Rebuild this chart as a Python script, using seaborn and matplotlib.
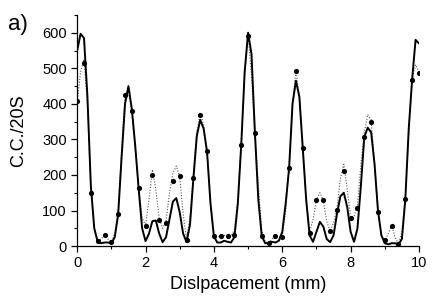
import numpy as np
import pandas as pd
import matplotlib
matplotlib.use("Agg")
import matplotlib.pyplot as plt
from matplotlib.ticker import MultipleLocator
import seaborn as sns

# measured points (every 0.2 mm)
meas_x = [0.0, 0.2, 0.4, 0.6, 0.8, 1.0, 1.2, 1.4, 1.6, 1.8, 2.0, 2.2, 2.4, 2.6, 2.8,
          3.0, 3.2, 3.4, 3.6, 3.8, 4.0, 4.2, 4.4, 4.6, 4.8, 5.0, 5.2, 5.4, 5.6, 5.8,
          6.0, 6.2, 6.4, 6.6, 6.8, 7.0, 7.2, 7.4, 7.6, 7.8, 8.0, 8.2, 8.4, 8.6, 8.8,
          9.0, 9.2, 9.4, 9.6, 9.8, 10.0]
meas_y = [408, 514, 149, 14, 31, 11, 90, 426, 380, 164, 56, 200, 74, 64, 183,
          198, 18, 191, 369, 267, 27, 28, 29, 31, 285, 590, 318, 28, 8, 28,
          25, 219, 493, 275, 36, 130, 130, 41, 102, 211, 79, 106, 307, 350, 95,
          16, 56, 6, 132, 467, 488]

curve_x = [round(0.1 * i, 1) for i in range(101)]
solid_y = [550, 597, 585, 420, 170, 50, 12, 8, 10, 10,
           8, 25, 90, 250, 400, 450, 385, 280, 160, 50,
           14, 35, 70, 72, 35, 11, 25, 75, 125, 135,
           95, 35, 11, 60, 190, 310, 355, 330, 265, 120,
           27, 10, 10, 15, 12, 10, 25, 120, 285, 490,
           600, 540, 318, 130, 28, 8, 8, 12, 10, 15,
           40, 120, 219, 400, 465, 420, 275, 130, 30, 12,
           40, 68, 55, 20, 11, 30, 90, 140, 150, 110,
           40, 12, 50, 170, 307, 333, 320, 230, 100, 30,
           8, 5, 8, 8, 5, 20, 132, 330, 470, 580,
           570]
dotted_y = [405, 490, 525, 400, 160, 50, 15, 20, 30, 20,
            12, 35, 100, 270, 420, 435, 375, 275, 165, 80,
            58, 130, 215, 160, 78, 50, 70, 150, 205, 225,
            195, 90, 20, 80, 200, 320, 375, 340, 262, 120,
            30, 25, 28, 30, 28, 28, 45, 130, 290, 480,
            595, 480, 318, 170, 45, 12, 8, 20, 28, 25,
            28, 100, 225, 400, 495, 420, 272, 130, 40, 75,
            130, 150, 128, 70, 42, 65, 105, 190, 230, 160,
            80, 85, 115, 230, 320, 370, 355, 230, 95, 30,
            15, 35, 58, 25, 6, 40, 135, 320, 470, 510,
            490]

curves = pd.DataFrame({"x": curve_x, "solid": solid_y, "dotted": dotted_y})
meas = pd.DataFrame({"x": meas_x, "y": meas_y})

sns.set_style("ticks")
plt.rcParams['font.family'] = ['Liberation Sans', 'DejaVu Sans']
plt.rcParams.update({'text.color': 'black', 'axes.labelcolor': 'black',
                     'xtick.color': 'black', 'ytick.color': 'black'})

fig = plt.figure(figsize=(4.36, 2.99), dpi=100)
ax = fig.add_axes([0.177, 0.177, 0.784, 0.773])

sns.lineplot(data=curves, x="x", y="dotted", ax=ax, color="#555555",
             linestyle=(0, (1, 1.5)), linewidth=0.8)
sns.lineplot(data=curves, x="x", y="solid", ax=ax, color="black", linewidth=1.4)
sns.scatterplot(data=meas, x="x", y="y", ax=ax, color="black", s=14,
                edgecolor="black", linewidth=0, zorder=5)

ax.set_xlim(0, 10)
ax.set_ylim(0, 650)
ax.xaxis.set_major_locator(MultipleLocator(2))
ax.xaxis.set_minor_locator(MultipleLocator(1))
ax.yaxis.set_major_locator(MultipleLocator(100))
ax.yaxis.set_minor_locator(MultipleLocator(50))
ax.tick_params(which="major", length=4, width=0.9, labelsize=10.5)
ax.tick_params(which="minor", length=2.5, width=0.8)
sns.despine(ax=ax)
for s in ["left", "bottom"]:
    ax.spines[s].set_linewidth(0.9)
    ax.spines[s].set_color("black")

ax.set_xlabel("Dislpacement (mm)", fontsize=13)
ax.set_ylabel("C.C./20S", fontsize=13)
ax.yaxis.set_label_coords(-0.145, 0.5)
fig.text(0.018, 0.90, "a)", fontsize=16, va="baseline")

fig.savefig("out.png", dpi=100)
